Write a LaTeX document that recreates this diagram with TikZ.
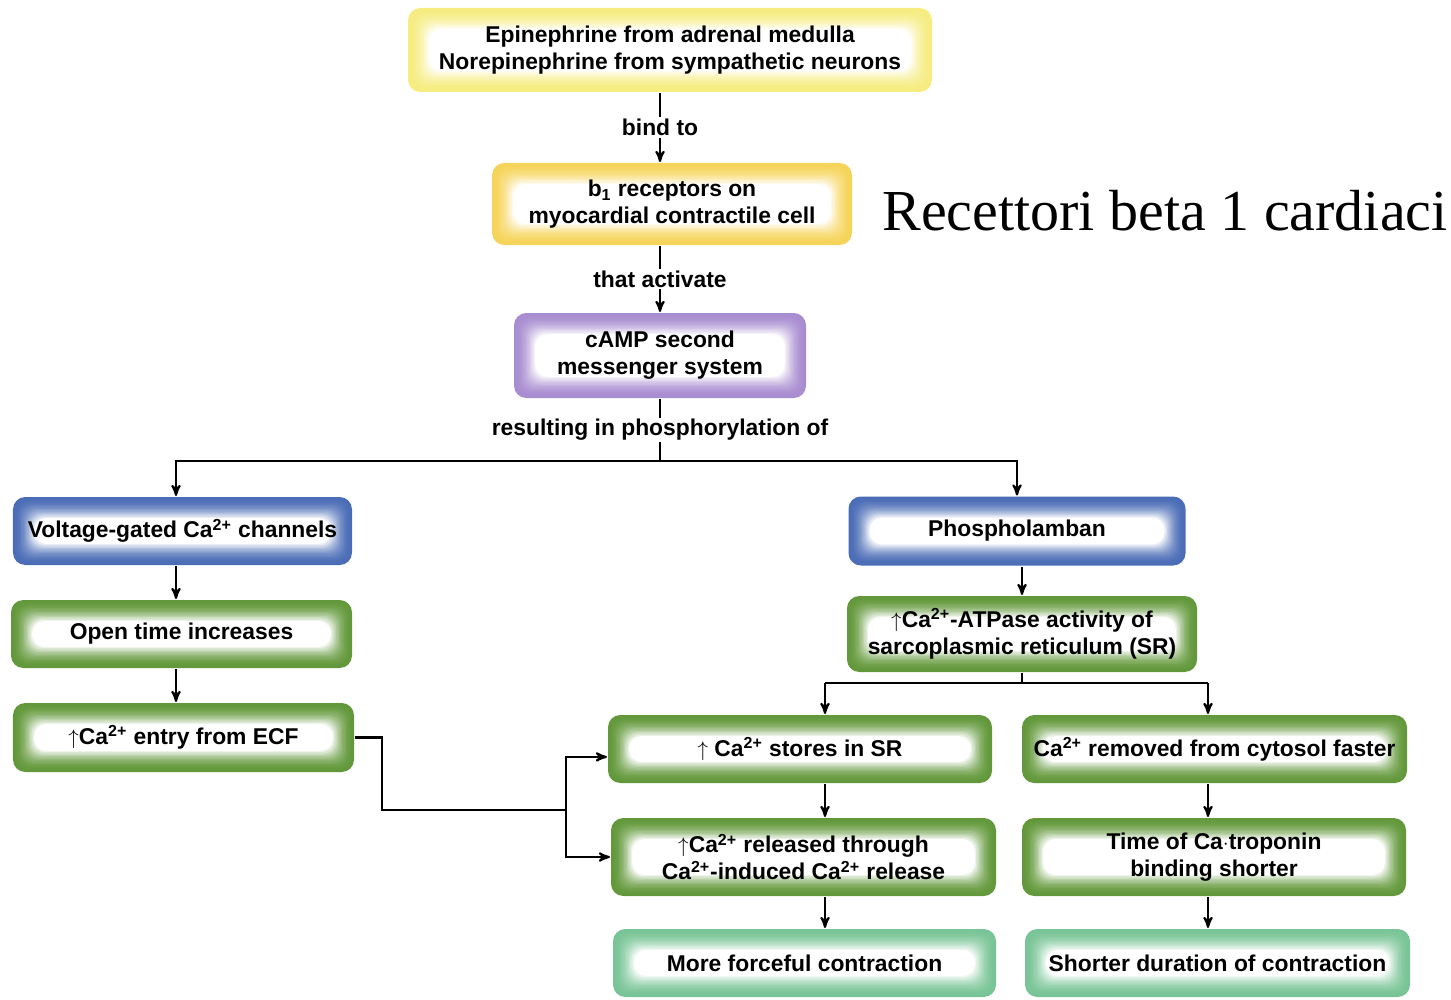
\documentclass[tikz,border=0pt]{standalone}
\usepackage{fontspec}
\setmainfont{Liberation Serif}
\setsansfont{Liberation Sans}
\usetikzlibrary{arrows}

\definecolor{paleyellow}{RGB}{246,236,128}
\definecolor{gold}{RGB}{246,212,90}
\definecolor{lilac}{RGB}{168,140,208}
\definecolor{steel}{RGB}{74,108,182}
\definecolor{leaf}{RGB}{98,152,58}
\definecolor{mint}{RGB}{120,196,150}

\newcommand{\Caion}{Ca\textsuperscript{2+}}
\newcommand{\incr}{$\uparrow$}

\begin{document}
\begin{tikzpicture}[>=stealth',line width=1.2pt,
  box/.style={rounded corners=7pt,fill=#1,align=center,inner sep=0pt,
    font=\sffamily\bfseries\fontsize{13}{15.5}\selectfont,
    path picture={
      \foreach \i [evaluate=\i as \p using int(100-100*(\i/16)^2)] in {1,...,16}
        \fill[#1!\p!white,rounded corners=7pt]
          ([shift={(\i*0.75pt,\i*0.75pt)}]path picture bounding box.south west)
          rectangle ([shift={(-\i*0.75pt,-\i*0.75pt)}]path picture bounding box.north east);
    }},
  lbl/.style={fill=white,inner sep=1pt,font=\sffamily\bfseries\fontsize{13}{15}\selectfont}]

  \useasboundingbox (0,0) rectangle (29.02,-19.98);

  \node[box=paleyellow,minimum width=10.48cm,minimum height=1.68cm] (1) at (13.40,-1.00)
    {Epinephrine from adrenal medulla\\Norepinephrine from sympathetic neurons};
  \node[box=gold,minimum width=7.20cm,minimum height=1.64cm] (2) at (13.44,-4.08)
    {b\textsubscript{1} receptors on\\myocardial contractile cell};
  \node[box=lilac,minimum width=5.84cm,minimum height=1.70cm] (3) at (13.20,-7.11)
    {cAMP second\\messenger system};
  \node[box=steel,minimum width=6.78cm,minimum height=1.36cm] (4) at (3.65,-10.62)
    {Voltage-gated \Caion{} channels};
  \node[box=steel,minimum width=6.74cm,minimum height=1.38cm] (5) at (20.34,-10.62)
    {Phospholamban};
  \node[box=leaf,minimum width=6.82cm,minimum height=1.36cm] (6) at (3.63,-12.68)
    {Open time increases};
  \node[box=leaf,minimum width=6.82cm,minimum height=1.38cm] (7) at (3.67,-14.75)
    {\incr\Caion{} entry from ECF};
  \node[box=leaf,minimum width=7.00cm,minimum height=1.52cm] (8) at (20.44,-12.68)
    {\incr\Caion-ATPase activity of\\sarcoplasmic reticulum (SR)};
  \node[box=leaf,minimum width=7.68cm,minimum height=1.36cm] (9) at (16.00,-14.98)
    {\incr{} \Caion{} stores in SR};
  \node[box=leaf,minimum width=7.70cm,minimum height=1.36cm] (10) at (24.29,-14.98)
    {\Caion{} removed from cytosol faster};
  \node[box=leaf,minimum width=7.70cm,minimum height=1.56cm] (11) at (16.07,-17.14)
    {\incr\Caion{} released through\\\Caion-induced \Caion{} release};
  \node[box=leaf,minimum width=7.68cm,minimum height=1.56cm] (12) at (24.28,-17.14)
    {Time of Ca$\cdot$troponin\\binding shorter};
  \node[box=mint,minimum width=7.66cm,minimum height=1.36cm] (13) at (16.09,-19.26)
    {More forceful contraction};
  \node[box=mint,minimum width=7.70cm,minimum height=1.36cm] (14) at (24.35,-19.26)
    {Shorter duration of contraction};

  \node (title) at (23.30,-4.22) {\fontsize{33}{36}\selectfont Recettori beta 1 cardiaci};

  \coordinate (split) at (13.20,-9.22);
  \coordinate (ccol) at (3.52,-9.22);
  \coordinate (lcol) at (16.50,-13.66);
  \coordinate (rcol) at (24.16,-13.66);
  \coordinate (j1) at (7.64,-16.20);
  \coordinate (j2) at (11.32,-16.20);

  \path[->]
    (1.south -| split) edge node[lbl] {bind to} (2.north -| split)
    (2.south -| split) edge node[lbl] {that activate} (3.north -| split);
  \draw (3) -- node[lbl] {resulting in phosphorylation of} (split);
  \draw[->] (split) -- (ccol) -- (4.north -| ccol);
  \draw[->] (split) -| (5.north);
  \draw[->] (4.south -| ccol) -- (6.north -| ccol);
  \draw[->] (6.south -| ccol) -- (7.north -| ccol);
  \draw[->] (5.south -| 8.north) -- (8);
  \draw (8.south) -- (8.south |- lcol);
  \draw (lcol) -- (rcol);
  \draw[->] (lcol) -- (lcol |- 9.north);
  \draw[->] (rcol) -- (rcol |- 10.north);
  \draw[->] (9.south -| lcol) -- (11.north -| lcol);
  \draw[->] (11.south -| lcol) -- (13.north -| lcol);
  \draw[->] (10.south -| rcol) -- (12.north -| rcol);
  \draw[->] (12.south -| rcol) -- (14.north -| rcol);
  \draw (7.east) -| (j1) -- (j2);
  \draw[->] (j2) |- ([yshift=-4.5pt]9.west);
  \draw[->] (j2) |- (11.west);

\end{tikzpicture}
\end{document}
